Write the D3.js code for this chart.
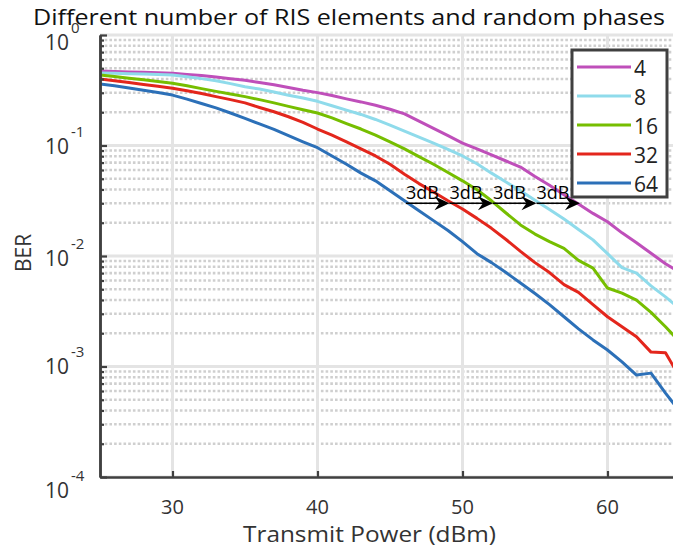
<!DOCTYPE html>
<html>
<head>
<meta charset="utf-8">
<script src="https://cdn.jsdelivr.net/npm/d3@7"></script>
<style>
  html, body { margin: 0; padding: 0; background: #fff; overflow: hidden; }
  svg { display: block; font-family: "Open Sans", "Noto Sans", sans-serif; }
</style>
</head>
<body>
<svg id="chart" width="673" height="555"></svg>
<script>
// Transmit power (dBm) sample points
const power = [25, 26, 27, 28, 29, 30, 31, 32, 33, 34, 35, 36, 37, 38, 39, 40,
  41, 42, 43, 44, 45, 46, 47, 48, 49, 50, 51, 52, 53, 54, 55, 56, 57, 58, 59, 60,
  61, 62, 63, 64, 65];

// Simulated BER for each number of RIS elements (random phases)
const ber4 = [0.472, 0.468, 0.463, 0.459, 0.455, 0.450, 0.440, 0.429, 0.416, 0.402,
  0.389, 0.372, 0.355, 0.335, 0.316, 0.301, 0.283, 0.264, 0.248, 0.231,
  0.213, 0.193, 0.166, 0.143, 0.123, 0.105, 0.0933, 0.0822, 0.0724, 0.0638,
  0.0525, 0.0437, 0.0359, 0.0295, 0.0243, 0.0204, 0.0162, 0.0132, 0.0106, 0.00851,
  0.00708];
const ber8 = [0.453, 0.450, 0.447, 0.443, 0.439, 0.435, 0.419, 0.403, 0.385, 0.363,
  0.340, 0.324, 0.305, 0.285, 0.269, 0.251, 0.229, 0.209, 0.191, 0.172,
  0.153, 0.135, 0.119, 0.105, 0.0923, 0.0804, 0.0684, 0.0562, 0.0468, 0.0389,
  0.0320, 0.0263, 0.0216, 0.0174, 0.0140, 0.0105, 0.00785, 0.00700, 0.00537, 0.00427,
  0.00331];
const ber16 = [0.435, 0.422, 0.407, 0.394, 0.380, 0.366, 0.347, 0.327, 0.309, 0.292,
  0.277, 0.260, 0.243, 0.226, 0.211, 0.197, 0.178, 0.158, 0.141, 0.124,
  0.108, 0.0933, 0.0794, 0.0676, 0.0569, 0.0479, 0.0398, 0.0316, 0.0245, 0.0191,
  0.0158, 0.0135, 0.0117, 0.00912, 0.00776, 0.00513, 0.00462, 0.00398, 0.00309, 0.00229,
  0.00166];
const ber32 = [0.400, 0.386, 0.372, 0.357, 0.344, 0.330, 0.313, 0.295, 0.277, 0.260,
  0.243, 0.221, 0.202, 0.182, 0.162, 0.141, 0.124, 0.108, 0.0933, 0.0804,
  0.0676, 0.0550, 0.0452, 0.0380, 0.0316, 0.0266, 0.0219, 0.0178, 0.0141, 0.0110,
  0.00871, 0.00708, 0.00550, 0.00468, 0.00363, 0.00282, 0.00229, 0.00186, 0.00135, 0.00133,
  0.000794];
const ber64 = [0.361, 0.347, 0.331, 0.316, 0.302, 0.286, 0.263, 0.240, 0.219, 0.197,
  0.176, 0.157, 0.140, 0.123, 0.108, 0.0955, 0.0804, 0.0676, 0.0562, 0.0479,
  0.0389, 0.0316, 0.0257, 0.0209, 0.0170, 0.0135, 0.0105, 0.00871, 0.00708, 0.00570,
  0.00457, 0.00363, 0.00282, 0.00219, 0.00174, 0.00141, 0.00110, 0.000837, 0.000871, 0.000575,
  0.000389];

const seriesNames = ["4", "8", "16", "32", "64"];
const seriesColors = ["#bf4fba", "#8fdbeb", "#76be00", "#e3261c", "#2c70b8"];

const xTicks = [30, 40, 50, 60];
const yTicks = [1, 0.1, 0.01, 0.001, 0.0001];
const yTickExponents = ["0", "-1", "-2", "-3", "-4"];

// 3 dB gain markers between neighbouring curves
const gainArrowStarts = [46.1, 49.1, 52.1, 55.1];
const gainArrowStep = 3;
const gainArrowBER = 0.03;
const gainArrowLabel = "3dB";

const titleText = "Different number of RIS elements and random phases";
const xLabelText = "Transmit Power (dBm)";
const yLabelText = "BER";

(function draw() {
  const series = [ber4, ber8, ber16, ber32, ber64].map((vals, i) => ({
    name: seriesNames[i],
    color: seriesColors[i],
    points: power.map((p, j) => ({ p, ber: vals[j] }))
  }));

  const svg = d3.select("#chart");
  const pLeft = 100, pRight = 680, pTop = 35, pBottom = 477;
  const x = d3.scaleLinear().domain([25, 65]).range([pLeft, pRight]);
  const y = d3.scaleLog().domain([1e-4, 1]).range([pBottom, pTop]);

  const axisColor = "#404040";
  const textColor = "#333";

  svg.append("defs").append("clipPath").attr("id", "plotClip")
    .append("rect").attr("x", pLeft).attr("y", pTop - 2)
    .attr("width", pRight - pLeft).attr("height", pBottom - pTop + 4);

  // minor log grid (dotted)
  const minorVals = [];
  for (let k = -4; k < 0; k++) for (let m = 2; m <= 9; m++) minorVals.push(m * Math.pow(10, k));

  const grid = svg.append("g").attr("clip-path", "url(#plotClip)");
  grid.selectAll("line.minor").data(minorVals).join("line")
    .attr("class", "minor")
    .attr("x1", pLeft).attr("x2", pRight)
    .attr("y1", d => y(d)).attr("y2", d => y(d))
    .attr("stroke", "#cfcfcf").attr("stroke-width", 2.6)
    .attr("stroke-dasharray", "2.6 2.1");

  grid.selectAll("line.hmajor").data(yTicks).join("line")
    .attr("class", "hmajor")
    .attr("x1", pLeft).attr("x2", pRight)
    .attr("y1", d => y(d)).attr("y2", d => y(d))
    .attr("stroke", "#e4e4e4").attr("stroke-width", 3);

  grid.selectAll("line.vmajor").data(xTicks).join("line")
    .attr("class", "vmajor")
    .attr("x1", d => x(d)).attr("x2", d => x(d))
    .attr("y1", pTop).attr("y2", pBottom)
    .attr("stroke", "#e4e4e4").attr("stroke-width", 3);

  // curves
  const line = d3.line().x(d => x(d.p)).y(d => y(d.ber));
  svg.append("g").attr("clip-path", "url(#plotClip)")
    .selectAll("path").data(series).join("path")
    .attr("d", d => line(d.points))
    .attr("fill", "none")
    .attr("stroke", d => d.color)
    .attr("stroke-width", 3)
    .attr("stroke-linejoin", "round");

  // left axis: ticks pointing inward
  const minorAxis = d3.axisRight(y).tickValues(minorVals).tickSize(4).tickSizeOuter(0).tickFormat("");
  const majorAxis = d3.axisRight(y).tickValues(yTicks).tickSize(7).tickSizeOuter(0).tickFormat("");
  [minorAxis, majorAxis].forEach(ax => {
    const g = svg.append("g").attr("transform", `translate(${pLeft},0)`).call(ax);
    g.select(".domain").attr("stroke", axisColor).attr("stroke-width", 2.5);
    g.selectAll(".tick line").attr("stroke", axisColor).attr("stroke-width", 2.2);
  });

  // bottom axis: ticks pointing inward
  const xAxis = d3.axisTop(x).tickValues(xTicks).tickSize(6).tickSizeOuter(0).tickFormat("");
  const gx = svg.append("g").attr("transform", `translate(0,${pBottom})`).call(xAxis);
  gx.select(".domain").attr("stroke", axisColor).attr("stroke-width", 2.5);
  gx.selectAll(".tick line").attr("stroke", axisColor).attr("stroke-width", 2.2);

  // x tick labels
  svg.append("g").selectAll("text").data(xTicks).join("text")
    .attr("x", d => x(d)).attr("y", 514)
    .attr("text-anchor", "middle")
    .attr("font-size", 20).attr("fill", textColor)
    .text(d => d);

  // y tick labels as 10^k
  const yLabelShift = [15, 8.5, 9.5, 7.5, 21];
  const yl = svg.append("g").selectAll("text").data(yTicks).join("text")
    .attr("x", 45).attr("y", (d, i) => y(d) + yLabelShift[i])
    .attr("font-size", 21).attr("fill", textColor);
  yl.append("tspan").text("10");
  yl.append("tspan").attr("dx", 2).attr("dy", -17).attr("font-size", 15)
    .text((d, i) => yTickExponents[i]);

  // axis labels and title
  svg.append("text").attr("x", 243).attr("y", 542)
    .attr("font-size", 21).attr("fill", textColor)
    .attr("textLength", 253).attr("lengthAdjust", "spacingAndGlyphs")
    .text(xLabelText);

  svg.append("text")
    .attr("transform", "translate(31,253) rotate(-90)")
    .attr("text-anchor", "middle")
    .attr("font-size", 21).attr("fill", textColor)
    .text(yLabelText);

  svg.append("text").attr("x", 33).attr("y", 25)
    .attr("font-size", 22).attr("fill", "#111")
    .attr("textLength", 632).attr("lengthAdjust", "spacingAndGlyphs")
    .text(titleText);

  // 3 dB arrows
  const arrows = svg.append("g");
  gainArrowStarts.forEach(s => {
    const x0 = x(s), x1 = x(s + gainArrowStep), yy = y(gainArrowBER);
    arrows.append("line").attr("x1", x0).attr("x2", x1 - 8)
      .attr("y1", yy).attr("y2", yy)
      .attr("stroke", "#000").attr("stroke-width", 1.6);
    arrows.append("path")
      .attr("d", "M0,0 L-15,-7 L-10,0 L-15,7 Z")
      .attr("transform", `translate(${x1},${yy})`)
      .attr("fill", "#000");
    arrows.append("text").attr("x", x0).attr("y", yy - 4)
      .attr("font-size", 19).attr("fill", "#000")
      .attr("textLength", 33).attr("lengthAdjust", "spacingAndGlyphs")
      .text(gainArrowLabel);
  });

  // legend
  const lg = svg.append("g");
  lg.append("rect").attr("x", 572).attr("y", 50).attr("width", 95).attr("height", 147)
    .attr("fill", "#fff").attr("stroke", axisColor).attr("stroke-width", 3);
  const items = lg.selectAll("g.item").data(series).join("g")
    .attr("class", "item")
    .attr("transform", (d, i) => `translate(0,${67 + i * 29})`);
  items.append("line").attr("x1", 577).attr("x2", 631).attr("y1", 0).attr("y2", 0)
    .attr("stroke", d => d.color).attr("stroke-width", 3);
  items.append("text").attr("x", 634).attr("y", 8.5)
    .attr("font-size", 21).attr("fill", "#222")
    .text(d => d.name);
})();
</script>
</body>
</html>
